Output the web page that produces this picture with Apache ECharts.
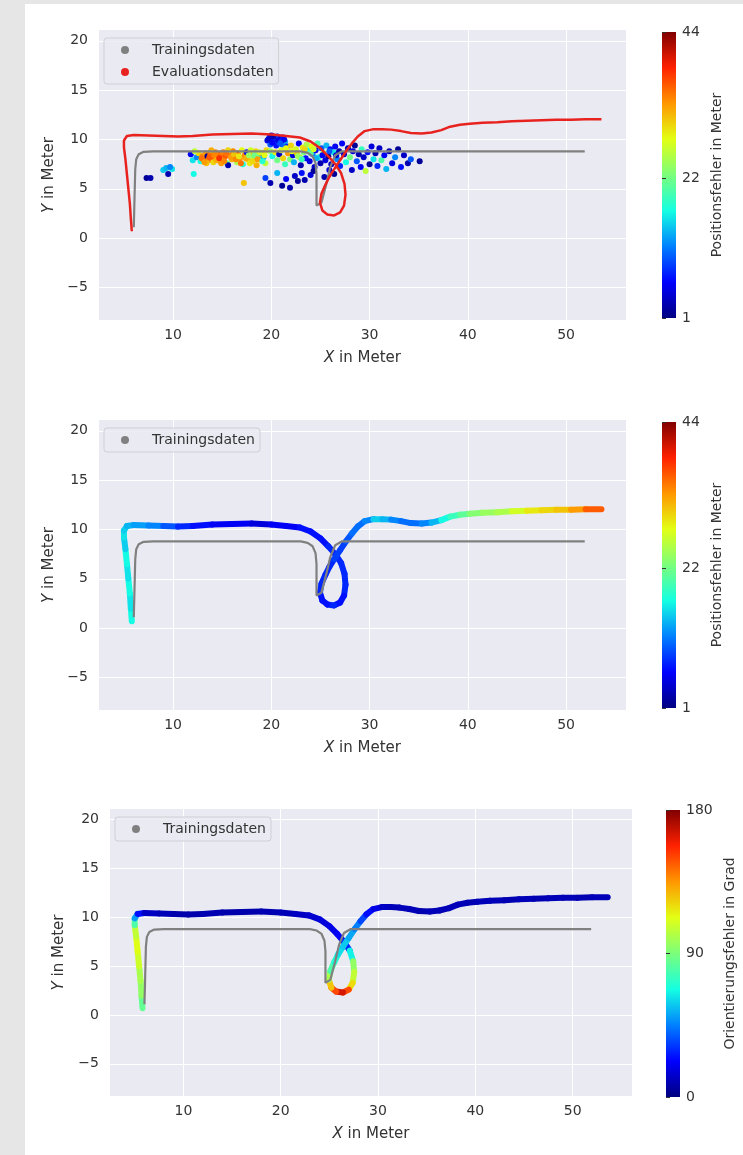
<!DOCTYPE html>
<html>
<head>
<meta charset="UTF-8">
<script src="https://cdn.jsdelivr.net/npm/echarts@6/dist/echarts.min.js"></script>
<style>
  html, body { margin: 0; padding: 0; width: 743px; height: 1155px; background: #e6e6e6; overflow: hidden; }
  #paper { position: absolute; left: 25px; top: 4px; right: 0; bottom: 0; background: #fff; }
  #c { position: absolute; left: 0; top: 0; width: 743px; height: 1155px; }
</style>
</head>
<body>
<div id="paper"></div>
<div id="c"></div>
<script>
// ticks + axis ranges
const xTicks = [10, 20, 30, 40, 50];
const yTicks = [-5, 0, 5, 10, 15, 20];
const posTicks = [1, 22, 44];
const oriTicks = [0, 90, 180];
const xRange = [2.46, 56.1];
const yRange = [-8.3, 21.1];

// Trainingsdaten (grau)
const trainX = [6.0, 6.05, 6.1, 6.15, 6.25, 6.5, 7.0, 8.0, 23.0, 23.7, 24.2, 24.5, 24.6, 24.6, 24.8, 25.1, 25.6, 26.0, 26.5, 27.2, 51.9];
const trainY = [1.1, 3.0, 5.0, 7.0, 8.0, 8.5, 8.75, 8.8, 8.8, 8.65, 8.3, 7.6, 6.5, 3.3, 3.2, 3.6, 5.5, 7.2, 8.4, 8.8, 8.8];

// Evaluationsdaten (Pfad) + Fehler je Punkt
const evalX = [5.8, 5.7, 5.6, 5.45, 5.3, 5.15, 5.0, 5.0, 5.3, 6.0,
  7.5, 9.0, 10.5, 12.0, 14.0, 16.0, 18.0, 20.0, 21.5, 22.9,
  24.0, 25.0, 25.8, 26.5, 27.1, 27.45, 27.55, 27.4, 27.0, 26.4,
  25.7, 25.2, 24.95, 25.1, 25.5, 25.9, 26.4, 27.0, 27.6, 28.2,
  28.8, 29.5, 30.4, 31.3, 32.2, 33.2, 34.2, 35.3, 36.3, 37.3,
  38.2, 39.2, 40.2, 41.5, 43.0, 44.5, 46.0, 47.5, 49.0, 50.5,
  52.0, 53.6];
const evalY = [0.7, 2.0, 3.5, 5.0, 6.5, 8.0, 9.2, 9.9, 10.35, 10.45,
  10.4, 10.35, 10.3, 10.35, 10.5, 10.55, 10.6, 10.5, 10.35, 10.2,
  9.8, 9.1, 8.3, 7.5, 6.6, 5.5, 4.4, 3.3, 2.6, 2.3,
  2.4, 2.8, 3.6, 4.5, 5.4, 6.2, 7.0, 7.9, 8.8, 9.6,
  10.3, 10.85, 11.05, 11.05, 11.0, 10.85, 10.65, 10.6, 10.7, 10.95,
  11.3, 11.5, 11.6, 11.7, 11.75, 11.85, 11.9, 11.95, 12.0, 12.0,
  12.05, 12.05];
const posErr = [17, 16, 17, 16, 17, 15, 16, 15, 14, 13,
  12, 10, 8, 7, 6, 6, 5, 6, 6, 7,
  7, 7, 8, 8, 8, 8, 8, 7, 7, 8,
  7, 7, 8, 8, 8, 8, 9, 9, 10, 11,
  11, 12, 15, 14, 12, 11, 11, 12, 14, 17,
  19, 21, 23, 24, 25, 27, 29, 30, 31, 33,
  36, 38];
const oriErr = [85, 95, 100, 108, 112, 105, 80, 50, 25, 12,
  10, 8, 8, 9, 8, 8, 9, 10, 12, 14,
  16, 18, 22, 30, 65, 95, 105, 120, 150, 165,
  150, 125, 100, 80, 70, 62, 58, 52, 45, 35,
  25, 18, 12, 10, 10, 10, 9, 10, 10, 10,
  10, 9, 10, 10, 9, 10, 9, 10, 10, 9,
  10, 11];

// Vorhersagen (Plot 1)
const predX = [7.3, 7.7, 9.0, 9.3, 9.5, 9.9, 9.7,
  11.8, 12.0, 12.1, 12.4, 12.6, 12.8, 13.0, 13.1, 13.3, 13.5,
  13.6, 13.8, 14.0, 14.1, 14.3, 14.5, 14.6, 14.8, 15.0, 15.1,
  15.3, 15.5, 15.6, 15.8, 16.0, 16.1, 16.3, 16.5, 16.6, 16.8,
  17.0, 17.1, 17.2, 17.3, 17.5, 17.6, 17.8, 18.0, 18.2, 18.4,
  18.5, 18.7, 18.9, 19.0, 19.2, 19.4, 19.5, 13.4, 14.9, 16.9,
  12.2, 13.9, 15.6, 17.9,
  12.9, 13.2, 13.7, 14.2, 14.4, 14.7, 15.2, 15.4, 15.9, 16.2,
  16.4, 16.7, 17.4, 17.7, 18.1, 18.3, 18.6, 18.8, 19.1, 19.3,
  19.6, 19.8, 19.9, 20.0, 20.2, 20.3, 20.5, 20.6, 20.8, 20.9,
  21.1, 21.2, 21.4, 21.6,
  19.7, 20.1, 20.4, 20.7, 21.0, 21.3, 20.2, 20.9,
  19.9, 20.1, 20.4, 20.6, 20.8, 21.0, 21.2, 21.4, 21.5, 21.7,
  21.9, 22.0, 22.2, 22.3, 22.5, 22.6, 22.8, 22.9, 23.0, 23.2,
  23.3, 23.5, 23.6, 23.8, 23.9, 24.1, 24.2, 24.4, 24.5, 24.7,
  24.8, 25.0, 25.1, 25.3, 25.5, 25.6, 25.8, 26.0, 26.1, 26.3,
  26.5, 26.7, 26.9, 27.0,
  22.1, 22.7, 23.4, 24.0, 24.6, 25.2, 25.9, 26.6, 23.1, 24.3,
  19.4, 19.9, 20.6, 21.1, 21.5, 21.9, 22.4, 22.7, 23.1, 23.4,
  24.0, 24.3, 25.4, 25.9, 26.4,
  27.2, 27.4, 27.6, 27.8, 28.0, 28.2, 28.3, 28.5, 28.7, 28.9,
  29.1, 29.2, 29.4, 29.6, 29.8, 30.0, 30.2, 30.4, 30.6, 30.8,
  31.0, 31.2, 31.5, 31.7, 32.0, 32.3, 32.6, 32.9, 33.2, 33.5,
  33.9, 34.2, 35.1];
const predY = [6.1, 6.1, 6.9, 7.1, 6.5, 7.0, 7.2,
  8.5, 7.9, 6.5, 8.2, 8.6, 7.8, 8.3, 8.0, 8.6, 8.3,
  7.9, 8.5, 8.1, 7.7, 8.7, 8.3, 7.9, 8.5, 8.0, 8.7,
  8.3, 7.6, 7.4, 8.4, 8.0, 8.8, 8.2, 7.7, 8.6, 8.1,
  8.9, 7.5, 5.6, 8.4, 8.7, 8.0, 7.6, 8.5, 8.1, 8.8,
  7.4, 8.3, 7.9, 8.6, 8.2, 7.6, 8.9, 7.6, 7.6, 7.6,
  8.8, 8.9, 8.9, 8.9,
  8.1, 7.7, 8.2, 8.4, 7.9, 8.1, 7.8, 8.6, 8.2, 8.5,
  8.0, 8.3, 8.1, 8.4, 7.8, 8.4, 8.0, 8.7, 7.8, 8.4,
  9.9, 10.2, 9.5, 10.4, 9.8, 10.1, 9.4, 10.3, 9.7, 10.0,
  9.5, 10.2, 9.8, 9.3,
  10.0, 9.7, 10.2, 9.9, 9.8, 10.0, 10.3, 9.6,
  8.8, 8.3, 8.7, 7.9, 8.5, 8.9, 8.1, 7.5, 9.1, 8.6,
  8.0, 9.4, 8.4, 7.7, 9.0, 8.6, 9.6, 8.2, 7.4, 9.2,
  8.7, 8.1, 9.5, 8.9, 7.8, 9.3, 8.5, 7.2, 8.9, 9.6,
  8.2, 7.6, 9.1, 8.6, 7.9, 9.4, 8.3, 9.0, 7.5, 8.7,
  9.3, 8.0, 8.8, 7.3,
  8.8, 8.3, 9.0, 8.6, 8.1, 8.4, 8.8, 8.4, 8.0, 9.0,
  6.1, 5.6, 6.6, 5.3, 6.0, 5.1, 6.3, 5.8, 6.6, 5.9,
  6.4, 6.8, 6.2, 6.9, 6.5,
  9.6, 8.5, 7.7, 9.1, 8.2, 6.9, 8.8, 9.4, 7.8, 8.5,
  7.2, 9.0, 8.2, 6.8, 8.7, 7.5, 9.3, 8.0, 8.6, 7.3,
  9.1, 7.9, 8.4, 7.0, 8.8, 7.6, 8.2, 9.0, 7.2, 8.4,
  7.6, 8.0, 7.8];
const predErr = [2, 3, 15, 14, 3, 16, 12,
  6, 16, 17, 12, 30, 17, 34, 35, 33, 2,
  34, 35, 36, 30, 34, 33, 37, 35, 29, 34,
  36, 22, 3, 35, 32, 34, 30, 25, 36, 33,
  28, 18, 31, 34, 6, 31, 29, 33, 24, 30,
  32, 20, 29, 34, 13, 26, 30, 31, 33, 35,
  26, 32, 30, 27,
  35, 33, 36, 34, 32, 38, 34, 35, 33, 31,
  34, 29, 32, 24, 30, 22, 33, 27, 18, 28,
  6, 8, 10, 4, 12, 5, 7, 6, 9, 3,
  11, 7, 13, 8,
  4, 6, 9, 5, 8, 6, 3, 10,
  24, 17, 29, 22, 4, 27, 30, 19, 28, 33,
  23, 30, 5, 14, 27, 31, 6, 26, 3, 29,
  22, 7, 25, 17, 5, 28, 12, 4, 6, 20,
  18, 3, 10, 25, 5, 14, 2, 7, 4, 16,
  6, 12, 3, 8,
  28, 24, 30, 21, 14, 6, 10, 4, 19, 27,
  9, 3, 14, 2, 6, 3, 4, 2, 7, 3,
  5, 2, 3, 5, 2,
  6, 4, 17, 3, 22, 4, 5, 2, 10, 3,
  6, 19, 4, 26, 7, 2, 5, 16, 3, 8,
  4, 20, 6, 14, 3, 5, 12, 2, 7, 4,
  3, 10, 2];

const jet = ['#000080', '#0000ff', '#0080ff', '#14ffe2', '#7bff7b', '#e2ff14', '#ff9700', '#ff2100', '#800000'];
const FONT = 'DejaVu Sans';
const TXT = '#333';

const zip = (xs, ys) => xs.map((x, i) => [x, ys[i]]);
const predData = predX.map((x, i) => [x, predY[i], predErr[i]]);
// Pfad als Segmente (Farbe vom Startpunkt)
function segments(vals) {
    const out = [];
    for (let i = 0; i < evalX.length - 1; i++) {
        out.push([evalX[i], evalY[i], evalX[i + 1], evalY[i + 1], vals[i]]);
    }
    return out;
}
function renderSeg(params, api) {
    const a = api.coord([api.value(0), api.value(1)]);
    const b = api.coord([api.value(2), api.value(3)]);
    return {
        type: 'line',
        shape: { x1: a[0], y1: a[1], x2: b[0], y2: b[1] },
        style: { stroke: api.visual('color'), lineWidth: 6, lineCap: 'round' }
    };
}
const minus = v => String(v).replace('-', '\u2212');
// Farbbalken: jet von unten (min) nach oben (max)
const jetBar = new echarts.graphic.LinearGradient(0, 1, 0, 0,
    jet.map((c, i) => ({ offset: i / (jet.length - 1), color: c })));

const grids = [
    { left: 99, top: 30, width: 527, height: 290 },
    { left: 99, top: 420, width: 527, height: 290 },
    { left: 110, top: 809, width: 522, height: 287 }
];
const bars = [
    { left: 662, top: 32, width: 14, height: 286, min: 1, max: 44, ticks: posTicks, name: 'Positionsfehler in Meter', gap: 34 },
    { left: 662, top: 422, width: 14, height: 286, min: 1, max: 44, ticks: posTicks, name: 'Positionsfehler in Meter', gap: 34 },
    { left: 666, top: 810, width: 14, height: 287, min: 0, max: 180, ticks: oriTicks, name: 'Orientierungsfehler in Grad', gap: 43 }
];

const nameStyle = { fontSize: 15, color: TXT, fontFamily: FONT,
    rich: { i: { fontStyle: 'italic', fontSize: 15, color: TXT, fontFamily: FONT } } };
const labelStyle = { fontSize: 14, color: TXT, fontFamily: FONT };
const grayLine = (i) => ({ name: 'Trainingsdaten', type: 'line', xAxisIndex: i, yAxisIndex: i, data: zip(trainX, trainY),
    showSymbol: false, itemStyle: { color: '#808080' }, lineStyle: { color: '#808080', width: 2.2 } });

const option = {
    animation: false,
    grid: grids.map(g => Object.assign({ show: true, backgroundColor: '#EAEAF2', borderWidth: 0,
        containLabel: false, outerBoundsMode: 'none' }, g))
        .concat(bars.map(b => ({ show: true, backgroundColor: jetBar, borderWidth: 0,
            left: b.left, top: b.top, width: b.width, height: b.height,
            containLabel: false, outerBoundsMode: 'none' }))),
    xAxis: grids.map((g, i) => ({
        type: 'value', gridIndex: i, min: xRange[0], max: xRange[1],
        name: '{i|X} in Meter', nameLocation: 'middle', nameGap: 31, nameTextStyle: nameStyle,
        axisLine: { show: false }, axisTick: { show: false, customValues: xTicks },
        axisLabel: Object.assign({ customValues: xTicks, margin: 8 }, labelStyle),
        splitLine: { show: true, lineStyle: { color: '#ffffff', width: 1 } }
    })).concat(bars.map((b, i) => ({ type: 'value', gridIndex: 3 + i, show: false, min: 0, max: 1 }))),
    yAxis: grids.map((g, i) => ({
        type: 'value', gridIndex: i, min: yRange[0], max: yRange[1],
        name: '{i|Y} in Meter', nameLocation: 'middle', nameGap: i === 2 ? 43 : 42, nameTextStyle: nameStyle,
        axisLine: { show: false }, axisTick: { show: false, customValues: yTicks },
        axisLabel: Object.assign({ customValues: yTicks, margin: 11, formatter: minus }, labelStyle),
        splitLine: { show: true, lineStyle: { color: '#ffffff', width: 1 } }
    })).concat(bars.map((b, i) => ({
        type: 'value', gridIndex: 3 + i, position: 'right', min: b.min, max: b.max,
        name: b.name, nameLocation: 'middle', nameGap: b.gap,
        nameTextStyle: { fontSize: 14, color: TXT, fontFamily: FONT },
        axisLine: { show: false },
        axisTick: { show: true, customValues: b.ticks, length: 4, lineStyle: { color: TXT, width: 1 } },
        axisLabel: Object.assign({ customValues: b.ticks, margin: 6 }, labelStyle),
        splitLine: { show: false }
    }))),
    visualMap: bars.map((b, i) => ({
        type: 'continuous', show: false, min: b.min, max: b.max, seriesIndex: [2, 3, 5][i],
        dimension: i === 0 ? 2 : 4, inRange: { color: jet }
    })),
    legend: [
        { left: 104, top: 38, data: ['Trainingsdaten', 'Evaluationsdaten'] },
        { left: 104, top: 428, data: ['Trainingsdaten'] },
        { left: 115, top: 817, data: ['Trainingsdaten'] }
    ].map(l => Object.assign({
        orient: 'vertical', icon: 'circle', itemWidth: 8, itemHeight: 8, itemGap: 8,
        padding: [5, 5, 5, 17], selectedMode: false,
        backgroundColor: 'rgba(234,234,242,0.85)', borderColor: '#cfcfd6', borderWidth: 1, borderRadius: 3,
        formatter: n => '{t|' + n + '}',
        textStyle: { rich: { t: { fontSize: 14, lineHeight: 14, color: TXT, fontFamily: FONT, padding: [0, 0, 0, 18] } } }
    }, l)),
    series: [
        grayLine(0),
        { name: 'Evaluationsdaten', type: 'line', xAxisIndex: 0, yAxisIndex: 0, data: zip(evalX, evalY),
          showSymbol: false, itemStyle: { color: '#e8231f' }, lineStyle: { color: '#e8231f', width: 2.5 } },
        { name: 'Vorhersage', type: 'scatter', xAxisIndex: 0, yAxisIndex: 0, data: predData,
          symbolSize: 6, itemStyle: { opacity: 1 } },
        { name: 'Positionsfehler', type: 'custom', xAxisIndex: 1, yAxisIndex: 1, data: segments(posErr),
          encode: { x: [0, 2], y: [1, 3] }, renderItem: renderSeg },
        grayLine(1),
        { name: 'Orientierungsfehler', type: 'custom', xAxisIndex: 2, yAxisIndex: 2, data: segments(oriErr),
          encode: { x: [0, 2], y: [1, 3] }, renderItem: renderSeg },
        grayLine(2)
    ]
};

const chart = echarts.init(document.getElementById('c'), null, { renderer: 'canvas' });
chart.setOption(option);
</script>
</body>
</html>
